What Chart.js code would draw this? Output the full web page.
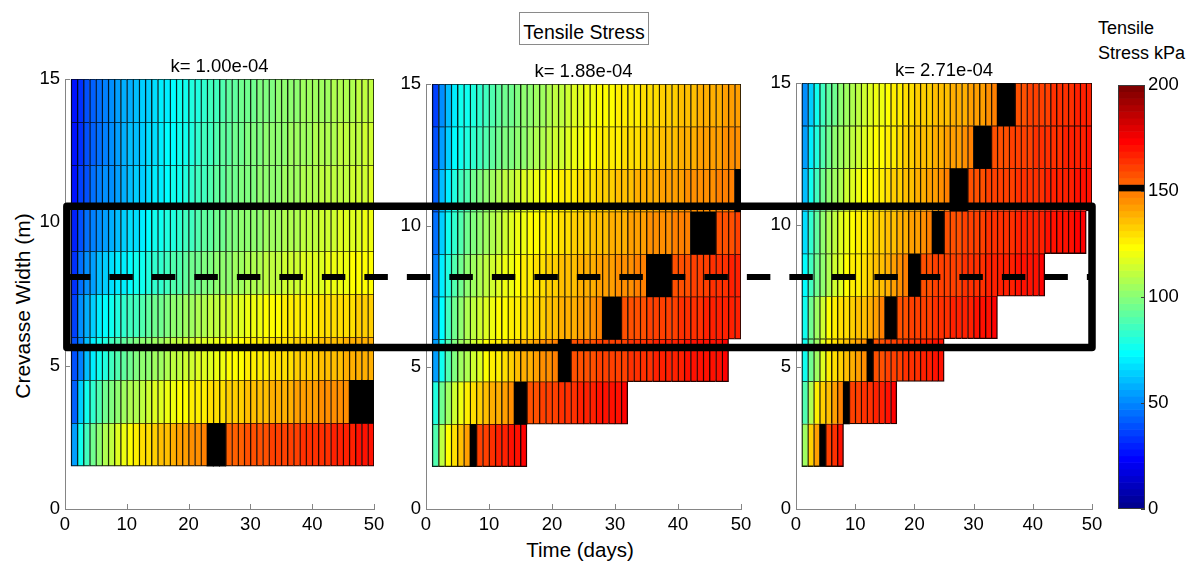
<!DOCTYPE html>
<html>
<head>
<meta charset="utf-8">
<script src="https://cdn.jsdelivr.net/npm/chart.js@4.4.1/dist/chart.umd.min.js"></script>
<style>
  body { margin: 0; background: #fff; width: 1190px; height: 565px; position: relative; overflow: hidden;
         font-family: 'Liberation Sans', Arial, sans-serif; }
  .box { position: absolute; }
  .lbl { position: absolute; color: #000; white-space: nowrap; }
  #overlay { position: absolute; left: 0; top: 0; pointer-events: none; }
</style>
</head>
<body>
<div class="lbl" style="left:519px;top:12px;width:130px;height:33px;box-sizing:border-box;border:1px solid #8a8a8a;text-align:center;font-size:19.5px;line-height:21px;padding-top:9px">Tensile Stress</div>
<div class="lbl" style="left:-107px;top:293px;width:260px;height:26px;line-height:26px;text-align:center;font-size:21px;transform:rotate(-90deg)">Crevasse Width (m)</div>
<div class="lbl" style="left:480px;top:538px;width:200px;text-align:center;font-size:20.5px;line-height:24px">Time (days)</div>
<div class="lbl" style="left:1098px;top:16px;font-size:18px;line-height:25px">Tensile<br>Stress kPa</div>

<div class="box" id="b0"><canvas id="c0"></canvas></div>
<div class="box" id="b1"><canvas id="c1"></canvas></div>
<div class="box" id="b2"><canvas id="c2"></canvas></div>
<div class="box" id="bcb"><canvas id="ccb"></canvas></div>
<canvas id="overlay" width="1190" height="565"></canvas>

<script>
// k value of each panel
var panelK = [1.00e-4, 1.88e-4, 2.71e-4];

// row edges (crevasse width, m) and the day the first column starts
var widthEdges = [1.5, 3, 4.5, 6, 7.5, 9, 10.5, 12, 13.5, 15];
var firstDay = 1;

// tensile stress (kPa), one array per row, bottom row first, one value per day
// (cells at 151 sit in the black 150 kPa band of the colour scale)
var stressK1 = [
  [54,75,87,96,102,108,112,116,120,123,126,129,131,133,135,137,139,141,142,144,145,147,151,151,151,155,156,156,157,158,158,159,160,160,161,161,162,163,163,164,165,165,166,167,167,168,169,169,170],
  [43,65,76,83,89,94,98,101,104,107,109,112,114,116,117,119,121,122,124,125,126,127,129,130,131,132,133,134,135,135,136,137,138,139,139,140,141,142,142,143,144,144,145,145,146,151,151,151,151],
  [40,49,60,69,75,80,85,88,92,95,97,100,102,104,106,108,110,111,113,114,116,117,118,120,121,122,123,124,125,126,127,128,129,130,130,131,132,133,133,134,135,136,136,137,138,138,139,139,140],
  [37,50,58,64,69,73,76,79,82,85,87,90,92,94,96,98,100,102,104,106,108,109,111,112,114,115,116,118,119,120,121,122,123,124,125,126,126,127,128,128,129,129,130,130,131,131,132,132,133],
  [34,45,51,56,60,63,66,69,71,74,76,78,80,82,84,86,88,90,92,94,96,97,99,100,102,103,104,106,107,108,109,110,111,112,113,114,115,116,117,118,118,119,120,121,121,122,123,123,124],
  [30,38,44,48,52,55,58,61,64,66,68,70,72,75,77,79,81,83,85,87,89,91,93,95,96,98,99,100,101,102,103,104,105,106,107,108,109,110,111,112,113,114,115,116,116,117,118,119,120],
  [28,35,40,44,47,50,53,56,59,61,63,65,67,69,71,74,76,78,80,82,85,87,89,91,93,94,96,97,98,99,100,101,102,103,104,105,106,107,108,109,110,110,111,112,112,113,114,115,116],
  [27,34,39,43,46,49,52,55,58,60,62,64,66,68,70,72,74,76,78,80,83,85,87,89,91,93,94,96,97,98,99,100,101,102,103,104,105,106,106,107,108,108,109,110,110,111,112,113,114],
  [26,33,38,42,45,48,51,54,57,59,61,63,65,67,69,71,73,75,77,79,81,83,85,87,89,91,92,94,95,96,97,98,99,100,101,102,103,104,104,105,106,106,107,108,108,109,110,111,112]
];

var stressK2 = [
  [88,110,124,131,137,143,151,160,162,164,166,168,169,171,172],
  [80,95,106,114,120,125,129,132,135,138,140,143,146,151,151,158,159,160,161,162,163,164,165,166,167,168,169,170,170,171,172],
  [55,75,88,97,104,109,114,118,122,125,128,131,134,136,138,140,142,144,145,147,151,151,157,158,158,159,160,160,161,162,162,163,164,164,165,166,166,167,168,168,169,169,170,170,171,171,172],
  [50,72,86,95,102,107,111,115,118,120,122,124,126,128,129,131,132,134,135,136,138,139,140,142,143,145,147,151,151,151,157,158,158,159,160,160,161,162,162,163,164,164,165,166,166,167,167,168,168],
  [48,70,81,89,95,100,104,108,111,114,117,119,121,124,125,127,129,130,132,133,135,136,137,138,139,140,142,142,143,144,145,146,147,148,151,151,151,151,157,158,159,160,161,162,163,164,165,166,167],
  [46,65,76,84,90,95,99,103,106,109,112,114,116,119,120,122,124,125,127,128,130,131,132,133,134,135,137,137,138,139,140,141,142,143,144,144,145,146,147,147,148,151,151,151,151,157,158,159,160],
  [43,60,71,79,85,90,95,98,102,105,107,110,112,114,116,118,119,121,122,124,125,126,128,129,130,131,132,133,134,135,136,137,138,139,139,140,141,142,142,143,144,144,145,146,146,147,147,148,151],
  [40,55,65,73,78,81,84,87,90,92,94,97,99,101,103,105,107,109,111,113,115,117,119,121,122,124,125,126,127,128,129,130,131,132,133,134,135,136,137,138,139,140,141,142,143,143,144,145,145],
  [37,52,62,70,75,78,81,84,87,89,91,94,96,98,100,102,104,106,108,110,112,114,116,118,119,121,122,123,124,125,126,127,128,129,130,131,132,133,134,135,136,137,138,139,140,140,141,142,142]
];

var stressK3 = [
  [105,132,142,151,160,163,170],
  [90,107,125,132,137,142,147,151,160,161,163,164,166,168,170,172],
  [75,95,105,117,125,130,132,135,140,142,145,151,158,159,160,161,162,163,164,165,166,168,169,170],
  [78,95,106,115,122,126,129,131,133,135,137,140,143,147,151,151,158,159,160,161,162,162,163,164,165,166,167,167,168,169,170,171,172],
  [74,86,96,103,109,114,118,122,125,128,131,133,135,137,139,141,144,147,151,151,158,159,160,160,161,162,162,163,164,164,165,166,166,167,168,168,169,170,170,171,172],
  [67,82,93,101,107,112,116,120,123,126,128,130,132,134,136,137,139,140,142,143,145,147,151,151,158,159,159,160,161,161,162,163,163,164,164,165,166,166,167,167,168,169,169,170,170,171,172,172],
  [60,75,86,94,100,105,109,113,116,119,122,124,126,128,130,132,134,135,137,138,140,141,143,144,147,151,151,151,158,159,159,160,160,161,162,162,163,163,164,165,165,166,166,167,168,168,169,169,170],
  [55,70,80,89,95,100,104,108,111,114,117,120,122,124,126,128,130,132,133,135,136,137,139,140,141,142,143,145,147,151,151,151,158,159,159,160,161,161,162,163,163,164,165,165,166,167,167,168,169],
  [50,65,75,85,91,96,100,104,108,111,114,117,119,121,123,125,127,129,130,132,133,134,135,136,137,138,139,140,141,142,143,145,147,151,151,151,158,159,160,161,161,162,163,164,165,165,166,167,168]
];

// colour scale
var cbMax = 200;
var cbLevels = 64;
var cbTicks = [0, 50, 100, 150, 200];
var threshold = 150;

// outlined band and centre line (widths in m, days on panel 1 / panel 3)
var bandTop = 10.56, bandBottom = 5.63, bandMid = 8.09;
var bandStartDay = 0.3, bandEndDay = 50;

// layout of the three panels (px)
var geom = [
  {left: 25, top: 55, plotW: 309, plotH: 430},
  {left: 386, top: 60, plotW: 315, plotH: 425},
  {left: 756, top: 59, plotW: 296, plotH: 426}
];
var yAxisW = 40, padR = 20, titleH = 24, xAxisH = 34;

Chart.defaults.font.family = "'Liberation Sans', Arial, sans-serif";
Chart.defaults.font.size = 18.5;
Chart.defaults.color = '#000';

// matlab jet(64), k = 1..64
function jet(k) {
  var t = k / cbLevels;
  function f(c) { return Math.round(255 * Math.max(0, Math.min(1, 1.5 - Math.abs(4 * t - c)))); }
  return [f(3), f(2), f(1)];
}
function binOf(v) {
  return Math.min(cbLevels - 1, Math.max(0, Math.floor(v / cbMax * cbLevels)));
}
var blackBin = binOf(threshold);
function fillFor(v) {
  var b = binOf(v);
  if (b === blackBin) return '#000';
  return 'rgb(' + jet(b + 1).join(',') + ')';
}
function edgeFor(v) {
  var b = binOf(v);
  if (b === blackBin) return '#000';
  var c = jet(b + 1);
  return 'rgb(' + c.map(function (x) { return Math.round(x * 0.15); }).join(',') + ')';
}

function kLabel(k) {
  var p = k.toExponential(2).split('e');
  var e = +p[1];
  return 'k= ' + p[0] + 'e' + (e < 0 ? '-' : '+') + String(Math.abs(e)).padStart(2, '0');
}

// small tick marks pointing into the plot
var inwardTicks = {
  id: 'inwardTicks',
  afterDatasetsDraw: function (chart, args, opts) {
    var ctx = chart.ctx, a = chart.chartArea;
    ctx.save();
    ctx.strokeStyle = opts.color || '#858585';
    ctx.lineWidth = 1;
    ['x', 'y'].forEach(function (id) {
      var s = chart.scales[id];
      if (!s || s.options.display === false) return;
      s.ticks.forEach(function (t) {
        var p = Math.round(s.getPixelForValue(t.value)) + 0.5;
        ctx.beginPath();
        if (s.isHorizontal()) { ctx.moveTo(p, a.bottom); ctx.lineTo(p, a.bottom - opts.len); }
        else if (s.position === 'right') { ctx.moveTo(a.right, p); ctx.lineTo(a.right - opts.len, p); }
        else { ctx.moveTo(a.left, p); ctx.lineTo(a.left + opts.len, p); }
        ctx.stroke();
      });
    });
    ctx.restore();
  }
};

var frame = {
  id: 'frame',
  afterDraw: function (chart, args, opts) {
    var ctx = chart.ctx, a = chart.chartArea;
    ctx.save();
    ctx.strokeStyle = opts.color;
    ctx.lineWidth = 1;
    ctx.strokeRect(Math.round(a.left) + 0.5, Math.round(a.top) + 0.5, Math.round(a.right - a.left) - 1, Math.round(a.bottom - a.top) - 1);
    ctx.restore();
  }
};

function cellsOf(rows) {
  var out = [];
  rows.forEach(function (vals, r) {
    var yMid = (widthEdges[r] + widthEdges[r + 1]) / 2;
    vals.forEach(function (v, i) {
      out.push({
        x: [firstDay + i, firstDay + i + 1], y: yMid, v: v,
        last: i === vals.length - 1,
        open: r === 0 || i >= rows[r - 1].length
      });
    });
  });
  return out;
}

function panelChart(idx, rows) {
  var g = geom[idx];
  var box = document.getElementById('b' + idx);
  box.style.left = g.left + 'px';
  box.style.top = g.top + 'px';
  box.style.width = (yAxisW + g.plotW + padR) + 'px';
  box.style.height = (titleH + g.plotH + xAxisH) + 'px';
  return new Chart(document.getElementById('c' + idx), {
    type: 'bar',
    data: {
      datasets: [{
        data: cellsOf(rows),
        backgroundColor: function (c) { return c.raw ? fillFor(c.raw.v) : '#000'; },
        borderColor: function (c) { return c.raw ? edgeFor(c.raw.v) : '#000'; },
        borderWidth: function (c) {
          if (!c.raw || binOf(c.raw.v) === blackBin) return 0;
          return {top: 1.3, left: 1.4, right: c.raw.last ? 1.4 : 0, bottom: c.raw.open ? 1.3 : 0};
        },
        borderSkipped: false,
        inflateAmount: 0.5,
        barPercentage: 1,
        categoryPercentage: 1
      }]
    },
    options: {
      indexAxis: 'y',
      animation: false,
      responsive: true,
      maintainAspectRatio: false,
      devicePixelRatio: 1,
      layout: {padding: {left: 0, right: padR, top: 0, bottom: 0}},
      plugins: {
        legend: {display: false},
        tooltip: {enabled: false},
        title: {
          display: true, text: kLabel(panelK[idx]), fullSize: false,
          font: {size: 18.5, weight: 'normal'}, color: '#000',
          padding: {top: 0.4, bottom: 1.4}
        },
        inwardTicks: {len: 5, color: '#858585'}
      },
      scales: {
        x: {
          type: 'linear', min: 0, max: 50,
          ticks: {stepSize: 10, padding: 5, maxRotation: 0, autoSkip: false},
          grid: {drawOnChartArea: false, drawTicks: false},
          border: {color: '#858585'},
          afterFit: function (s) { s.height = xAxisH; }
        },
        y: {
          type: 'linear', min: 0, max: 15, offset: false,
          ticks: {stepSize: 5, padding: 5},
          grid: {drawOnChartArea: false, drawTicks: false, offset: false},
          border: {color: '#858585'},
          afterFit: function (s) { s.width = yAxisW; }
        }
      }
    },
    plugins: [inwardTicks]
  });
}

var charts = [panelChart(0, stressK1), panelChart(1, stressK2), panelChart(2, stressK3)];

// colour bar
var cbBox = document.getElementById('bcb');
cbBox.style.left = '1118px';
cbBox.style.top = '71px';
cbBox.style.width = '72px';
cbBox.style.height = '452px';
var cbBins = [];
for (var b = 0; b < cbLevels; b++) cbBins.push(b);
new Chart(document.getElementById('ccb'), {
  type: 'bar',
  data: {
    labels: [''],
    datasets: [{
      data: cbBins.map(function (b) { return {x: '', y: [b * cbMax / cbLevels, (b + 1) * cbMax / cbLevels]}; }),
      backgroundColor: cbBins.map(function (b) { return fillFor((b + 0.5) * cbMax / cbLevels); }),
      borderWidth: 0,
      inflateAmount: 0.3,
      barPercentage: 1,
      categoryPercentage: 1
    }]
  },
  options: {
    animation: false,
    responsive: true,
    maintainAspectRatio: false,
    devicePixelRatio: 1,
    layout: {padding: {left: 0, right: 0, top: 12, bottom: 12}},
    plugins: {
      legend: {display: false},
      tooltip: {enabled: false},
      frame: {color: '#3a3a3a'},
      inwardTicks: {len: 4, color: '#3a3a3a'}
    },
    scales: {
      x: {display: false},
      y: {
        position: 'right', min: 0, max: cbMax,
        afterBuildTicks: function (s) { s.ticks = cbTicks.map(function (v) { return {value: v}; }); },
        ticks: {padding: 3},
        grid: {display: false, drawTicks: false},
        border: {display: false},
        afterFit: function (s) { s.width = 45; }
      }
    }
  },
  plugins: [frame, inwardTicks]
});

// thick outlined band and dashed centre line, placed with the panel scales
function drawOverlay() {
  var ov = document.getElementById('overlay');
  var ctx = ov.getContext('2d');
  var p1 = charts[0], p3 = charts[2];
  var r1 = p1.canvas.getBoundingClientRect(), r3 = p3.canvas.getBoundingClientRect();
  var x0 = r1.left + p1.scales.x.getPixelForValue(bandStartDay);
  var x1 = r3.left + p3.scales.x.getPixelForValue(bandEndDay);
  var yT = r1.top + p1.scales.y.getPixelForValue(bandTop);
  var yB = r1.top + p1.scales.y.getPixelForValue(bandBottom);
  var yM = r1.top + p1.scales.y.getPixelForValue(bandMid);
  ctx.strokeStyle = '#000';
  ctx.lineWidth = 6;
  ctx.setLineDash([23.5, 19]);
  ctx.beginPath();
  ctx.moveTo(x0, yM);
  ctx.lineTo(x1, yM);
  ctx.stroke();
  ctx.setLineDash([]);
  ctx.lineWidth = 7.5;
  ctx.lineJoin = 'round';
  ctx.strokeRect(x0, yT, x1 - x0, yB - yT);
}
drawOverlay();
</script>
</body>
</html>
